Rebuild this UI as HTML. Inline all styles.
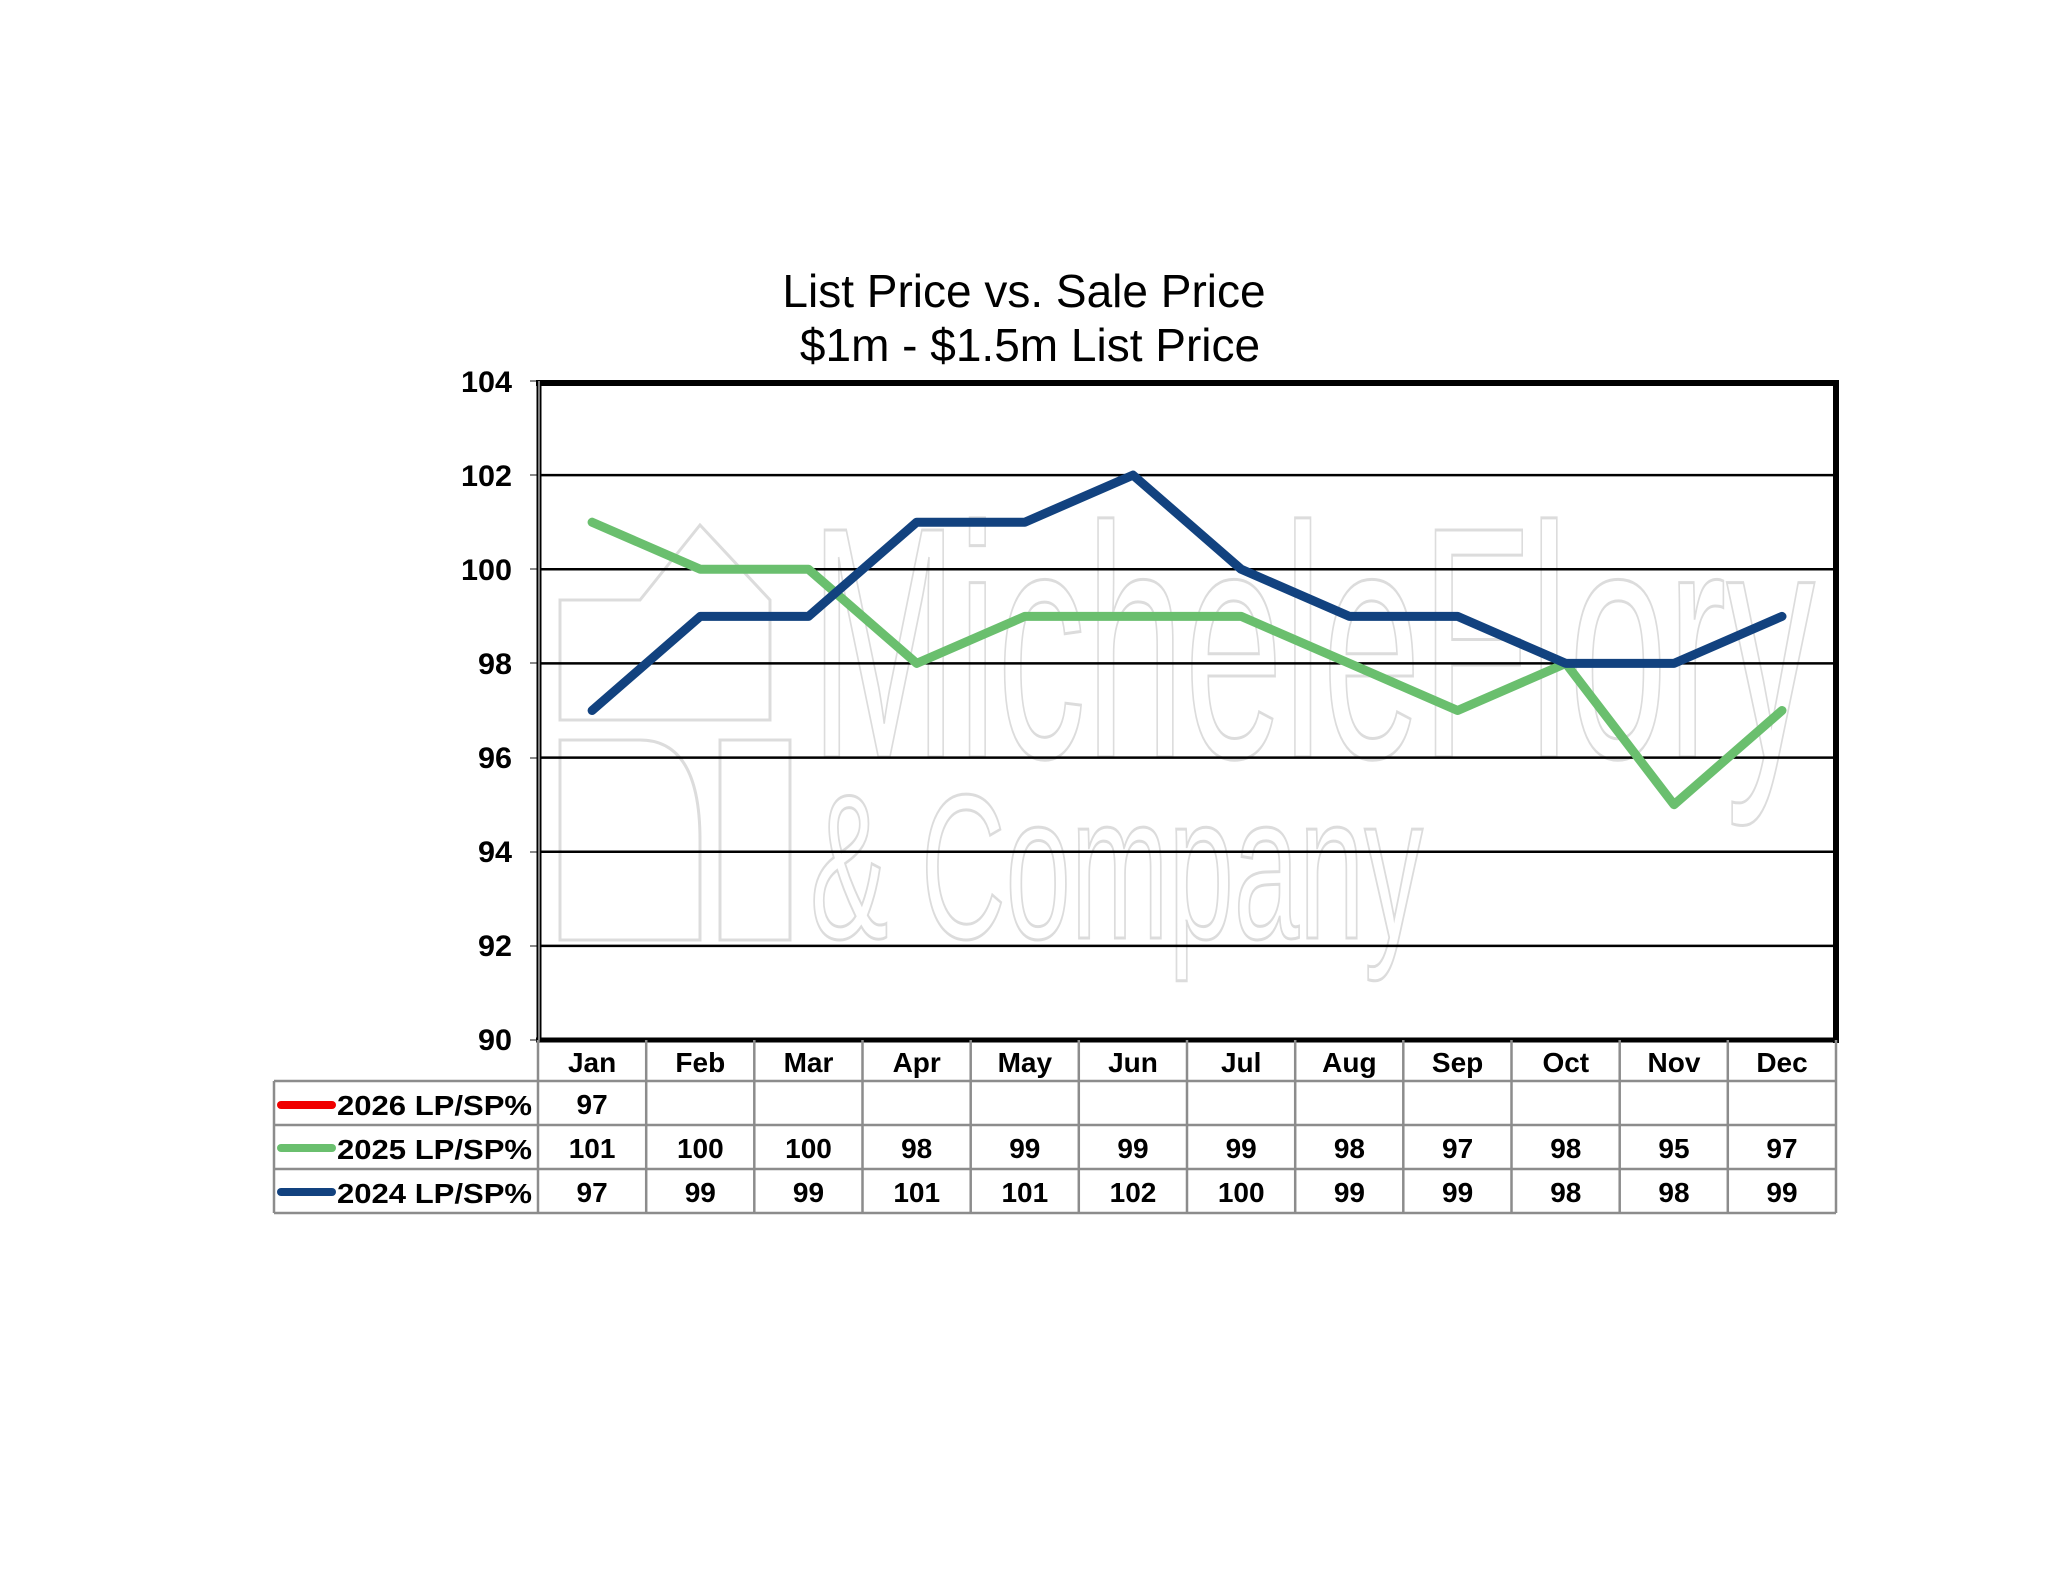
<!DOCTYPE html>
<html><head><meta charset="utf-8"><style>
html,body{margin:0;padding:0;background:#fff;}
svg{display:block;}
text{font-family:"Liberation Sans",Arial,sans-serif;}
.ax{font-size:30px;font-weight:bold;text-anchor:end;}
.tb{font-size:28px;font-weight:bold;text-anchor:middle;}
.lg{font-size:28px;font-weight:bold;}
</style></head><body>
<svg width="2048" height="1583" viewBox="0 0 2048 1583" xmlns="http://www.w3.org/2000/svg">
<rect width="2048" height="1583" fill="#fff"/>
<!-- watermark -->
<g fill="none" stroke="#dcdcdc" stroke-width="3">
<text x="810" y="757" font-size="330" textLength="1005" lengthAdjust="spacingAndGlyphs" style="font-family:'Liberation Sans',sans-serif">MicheleFlory</text>
<text x="810" y="938" font-size="206" textLength="613" lengthAdjust="spacingAndGlyphs" style="font-family:'Liberation Sans',sans-serif">&amp; Company</text>
<path d="M560 940 V740 H640 Q700 740 700 840 V940 Z"/>
<path d="M720 940 V740 H790 V940 Z"/>
<path d="M560 720 V600 H640 L700 525 L770 600 V720 Z"/>
</g>
<!-- title -->
<text x="1024" y="307" font-size="46" text-anchor="middle">List Price vs. Sale Price</text>
<text x="1030" y="361" font-size="46" text-anchor="middle">$1m - $1.5m List Price</text>
<!-- gridlines -->
<g stroke="#000" stroke-width="2.5">
<line x1="538" y1="475.1" x2="1836" y2="475.1"/>
<line x1="538" y1="569.3" x2="1836" y2="569.3"/>
<line x1="538" y1="663.4" x2="1836" y2="663.4"/>
<line x1="538" y1="757.6" x2="1836" y2="757.6"/>
<line x1="538" y1="851.7" x2="1836" y2="851.7"/>
<line x1="538" y1="945.9" x2="1836" y2="945.9"/>
</g>
<g stroke="#888" stroke-width="2">
<line x1="530" y1="381" x2="538" y2="381"/><line x1="530" y1="475" x2="538" y2="475"/>
<line x1="530" y1="569" x2="538" y2="569"/><line x1="530" y1="663" x2="538" y2="663"/>
<line x1="530" y1="758" x2="538" y2="758"/><line x1="530" y1="852" x2="538" y2="852"/>
<line x1="530" y1="946" x2="538" y2="946"/><line x1="530" y1="1040" x2="538" y2="1040"/>
</g>
<!-- plot frame -->
<line x1="536" y1="383" x2="1838" y2="383" stroke="#000" stroke-width="6"/>
<line x1="1836" y1="380" x2="1836" y2="1043" stroke="#000" stroke-width="6"/>
<line x1="536" y1="1040" x2="1838" y2="1040" stroke="#000" stroke-width="5"/>
<line x1="539" y1="381" x2="539" y2="1042" stroke="#000" stroke-width="5"/>
<line x1="539" y1="381" x2="539" y2="1042" stroke="#fff" stroke-width="1"/>
<!-- y labels -->
<text class="ax" x="512" y="392" textLength="51" lengthAdjust="spacingAndGlyphs">104</text>
<text class="ax" x="512" y="486" textLength="51" lengthAdjust="spacingAndGlyphs">102</text>
<text class="ax" x="512" y="580" textLength="51" lengthAdjust="spacingAndGlyphs">100</text>
<text class="ax" x="512" y="674" textLength="34" lengthAdjust="spacingAndGlyphs">98</text>
<text class="ax" x="512" y="768" textLength="34" lengthAdjust="spacingAndGlyphs">96</text>
<text class="ax" x="512" y="862" textLength="34" lengthAdjust="spacingAndGlyphs">94</text>
<text class="ax" x="512" y="956" textLength="34" lengthAdjust="spacingAndGlyphs">92</text>
<text class="ax" x="512" y="1050" textLength="34" lengthAdjust="spacingAndGlyphs">90</text>
<!-- series -->
<polyline fill="none" stroke="#6abf6e" stroke-width="9" stroke-linejoin="round" stroke-linecap="round"
points="592.1,522.2 700.3,569.3 808.5,569.3 916.7,663.4 1024.8,616.4 1133,616.4 1241.2,616.4 1349.4,663.4 1457.6,710.5 1565.8,663.4 1674,804.7 1782,710.5"/>
<polyline fill="none" stroke="#12427f" stroke-width="9" stroke-linejoin="round" stroke-linecap="round"
points="592.1,710.5 700.3,616.4 808.5,616.4 916.7,522.2 1024.8,522.2 1133,475.1 1241.2,569.3 1349.4,616.4 1457.6,616.4 1565.8,663.4 1674,663.4 1782,616.4"/>
<!-- table -->
<g stroke="#8c8c8c" stroke-width="2.5" fill="none">
<line x1="274" y1="1081" x2="1836" y2="1081"/>
<line x1="274" y1="1125" x2="1836" y2="1125"/>
<line x1="274" y1="1169" x2="1836" y2="1169"/>
<line x1="274" y1="1213" x2="1836" y2="1213"/>
<line x1="274" y1="1081" x2="274" y2="1213"/>
<line x1="538" y1="1040" x2="538" y2="1213"/>
<line x1="646.2" y1="1040" x2="646.2" y2="1213"/>
<line x1="754.3" y1="1040" x2="754.3" y2="1213"/>
<line x1="862.5" y1="1040" x2="862.5" y2="1213"/>
<line x1="970.7" y1="1040" x2="970.7" y2="1213"/>
<line x1="1078.8" y1="1040" x2="1078.8" y2="1213"/>
<line x1="1187" y1="1040" x2="1187" y2="1213"/>
<line x1="1295.2" y1="1040" x2="1295.2" y2="1213"/>
<line x1="1403.3" y1="1040" x2="1403.3" y2="1213"/>
<line x1="1511.5" y1="1040" x2="1511.5" y2="1213"/>
<line x1="1619.7" y1="1040" x2="1619.7" y2="1213"/>
<line x1="1727.8" y1="1040" x2="1727.8" y2="1213"/>
<line x1="1836" y1="1040" x2="1836" y2="1213"/>
</g>
<g>
<text class="tb" x="592.1" y="1072">Jan</text><text class="tb" x="700.3" y="1072">Feb</text><text class="tb" x="808.5" y="1072">Mar</text><text class="tb" x="916.7" y="1072">Apr</text><text class="tb" x="1024.8" y="1072">May</text><text class="tb" x="1133" y="1072">Jun</text><text class="tb" x="1241.2" y="1072">Jul</text><text class="tb" x="1349.4" y="1072">Aug</text><text class="tb" x="1457.6" y="1072">Sep</text><text class="tb" x="1565.8" y="1072">Oct</text><text class="tb" x="1674" y="1072">Nov</text><text class="tb" x="1782" y="1072">Dec</text>
<text class="tb" x="592.1" y="1114">97</text>
<text class="tb" x="592.1" y="1158">101</text><text class="tb" x="700.3" y="1158">100</text><text class="tb" x="808.5" y="1158">100</text><text class="tb" x="916.7" y="1158">98</text><text class="tb" x="1024.8" y="1158">99</text><text class="tb" x="1133" y="1158">99</text><text class="tb" x="1241.2" y="1158">99</text><text class="tb" x="1349.4" y="1158">98</text><text class="tb" x="1457.6" y="1158">97</text><text class="tb" x="1565.8" y="1158">98</text><text class="tb" x="1674" y="1158">95</text><text class="tb" x="1782" y="1158">97</text>
<text class="tb" x="592.1" y="1202">97</text><text class="tb" x="700.3" y="1202">99</text><text class="tb" x="808.5" y="1202">99</text><text class="tb" x="916.7" y="1202">101</text><text class="tb" x="1024.8" y="1202">101</text><text class="tb" x="1133" y="1202">102</text><text class="tb" x="1241.2" y="1202">100</text><text class="tb" x="1349.4" y="1202">99</text><text class="tb" x="1457.6" y="1202">99</text><text class="tb" x="1565.8" y="1202">98</text><text class="tb" x="1674" y="1202">98</text><text class="tb" x="1782" y="1202">99</text>
</g>
<g stroke-linecap="round" stroke-width="8">
<line x1="281" y1="1105" x2="332" y2="1105" stroke="#f00000"/>
<line x1="281" y1="1148" x2="332" y2="1148" stroke="#6abf6e"/>
<line x1="281" y1="1192" x2="332" y2="1192" stroke="#12427f"/>
</g>
<text class="lg" x="337" y="1115" textLength="195" lengthAdjust="spacingAndGlyphs">2026 LP/SP%</text>
<text class="lg" x="337" y="1159" textLength="195" lengthAdjust="spacingAndGlyphs">2025 LP/SP%</text>
<text class="lg" x="337" y="1203" textLength="195" lengthAdjust="spacingAndGlyphs">2024 LP/SP%</text>
</svg>
</body></html>
